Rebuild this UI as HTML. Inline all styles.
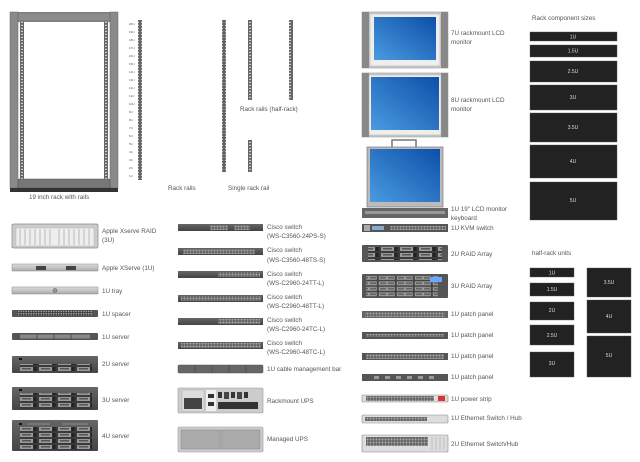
<!DOCTYPE html>
<html><head><meta charset="utf-8">
<style>
html,body{margin:0;padding:0;background:#fff;}
svg{display:block;}
text{font-family:"Liberation Sans",sans-serif;font-size:6.3px;fill:#555;}
.w{fill:#ddd;font-size:5px;text-anchor:middle;}
</style></head><body>
<svg width="640" height="462" viewBox="0 0 640 462" xmlns="http://www.w3.org/2000/svg">
<defs>
<pattern id="rail" width="4" height="3" patternUnits="userSpaceOnUse">
<rect width="4" height="3" fill="#666"/><rect x="1" y="0.8" width="2" height="1.2" fill="#ccc"/>
</pattern>
<pattern id="bay" width="19" height="6" patternUnits="userSpaceOnUse">
<rect width="19" height="6" fill="#3a3a3a"/><rect x="1" y="1" width="13" height="4" fill="#999"/><rect x="3" y="2" width="9" height="1.5" fill="#555"/><rect x="14.5" y="1" width="3" height="4" fill="#222"/>
</pattern>
<pattern id="port" width="3" height="3" patternUnits="userSpaceOnUse">
<rect width="3" height="3" fill="#555"/><rect x="0.5" y="0.5" width="2" height="2" fill="#aaa"/>
</pattern>
<pattern id="hole" width="2.5" height="2.5" patternUnits="userSpaceOnUse">
<rect width="2.5" height="2.5" fill="#444"/><circle cx="1.25" cy="1.25" r="0.7" fill="#bbb"/>
</pattern>
<pattern id="raid3" width="18" height="5.5" patternUnits="userSpaceOnUse">
<rect width="18" height="5.5" fill="#444"/><rect x="0.8" y="0.8" width="16" height="4" fill="#999"/><rect x="2" y="1.8" width="6" height="1.8" fill="#666"/><rect x="10" y="1.8" width="6" height="1.8" fill="#666"/>
</pattern>
<linearGradient id="scr" x1="0" y1="1" x2="1" y2="0"><stop offset="0" stop-color="#4a9be0"/><stop offset="1" stop-color="#0d4fa8"/></linearGradient>
<linearGradient id="mg" x1="0" y1="0" x2="0" y2="1"><stop offset="0" stop-color="#ddd"/><stop offset="1" stop-color="#aaa"/></linearGradient>
<linearGradient id="dg" x1="0" y1="0" x2="0" y2="1"><stop offset="0" stop-color="#666"/><stop offset="1" stop-color="#444"/></linearGradient>
</defs>

<!-- 19 inch rack -->
<rect x="10" y="12" width="108" height="180" fill="#888"/>
<rect x="18" y="22" width="92" height="157" fill="#fff"/>
<rect x="10" y="12" width="8" height="176" fill="#8a8a8a" stroke="#666" stroke-width="0.5"/>
<rect x="110" y="12" width="8" height="176" fill="#8a8a8a" stroke="#666" stroke-width="0.5"/>
<rect x="18" y="13" width="92" height="8" fill="#8c8c8c" stroke="#666" stroke-width="0.5"/>
<rect x="18" y="179" width="92" height="9" fill="#777" stroke="#555" stroke-width="0.5"/>
<rect x="10" y="188" width="108" height="4" fill="#333"/>
<rect x="20" y="22" width="4" height="157" fill="url(#rail)"/>
<rect x="104" y="22" width="4" height="157" fill="url(#rail)"/>
<text x="29" y="199">19 inch rack with rails</text>

<!-- numbered rail -->
<rect x="138" y="20" width="4" height="160" fill="url(#rail)"/>
<g font-size="3" >
<text x="129" y="25" style="font-size:3px">20U</text><text x="129" y="33" style="font-size:3px">19U</text><text x="129" y="41" style="font-size:3px">18U</text><text x="129" y="49" style="font-size:3px">17U</text><text x="129" y="57" style="font-size:3px">16U</text><text x="129" y="65" style="font-size:3px">15U</text><text x="129" y="73" style="font-size:3px">14U</text><text x="129" y="81" style="font-size:3px">13U</text><text x="129" y="89" style="font-size:3px">12U</text><text x="129" y="97" style="font-size:3px">11U</text><text x="129" y="105" style="font-size:3px">10U</text><text x="129" y="113" style="font-size:3px">9U</text><text x="129" y="121" style="font-size:3px">8U</text><text x="129" y="129" style="font-size:3px">7U</text><text x="129" y="137" style="font-size:3px">6U</text><text x="129" y="145" style="font-size:3px">5U</text><text x="129" y="153" style="font-size:3px">4U</text><text x="129" y="161" style="font-size:3px">3U</text><text x="129" y="169" style="font-size:3px">2U</text><text x="129" y="177" style="font-size:3px">1U</text>
</g>
<text x="168" y="190">Rack rails</text>
<rect x="222" y="20" width="4" height="152" fill="url(#rail)"/>
<text x="228" y="190">Single rack rail</text>
<rect x="248" y="20" width="4" height="80" fill="url(#rail)"/>
<rect x="289" y="20" width="4" height="80" fill="url(#rail)"/>
<text x="240" y="111">Rack rails (half-rack)</text>
<rect x="248" y="140" width="4" height="32" fill="url(#rail)"/>

<!-- left column -->
<rect x="12" y="224" width="86" height="24" rx="1.5" fill="#ccc" stroke="#888" stroke-width="0.7"/>
<rect x="16" y="228" width="78" height="18" fill="#eee" stroke="#aaa" stroke-width="0.4"/>
<g stroke="#999" stroke-width="0.6"><path d="M20 229v16M25 229v16M30 229v16M35 229v16M40 229v16M45 229v16M50 229v16M59 229v16M64 229v16M69 229v16M74 229v16M79 229v16M84 229v16M89 229v16"/></g>
<text x="102" y="233">Apple Xserve RAID</text><text x="102" y="242">(3U)</text>

<rect x="12" y="264" width="86" height="7" fill="url(#mg)" stroke="#888" stroke-width="0.5"/>
<rect x="36" y="266" width="10" height="4" fill="#444"/><rect x="66" y="266" width="10" height="4" fill="#444"/>
<text x="102" y="270">Apple XServe (1U)</text>

<rect x="12" y="287" width="86" height="7" fill="url(#mg)" stroke="#888" stroke-width="0.5"/>
<circle cx="55" cy="290.5" r="2" fill="#999" stroke="#555" stroke-width="0.5"/>
<text x="102" y="293">1U tray</text>

<rect x="12" y="310" width="86" height="7" rx="1" fill="#555"/>
<rect x="18" y="311" width="74" height="5" fill="url(#hole)"/>
<text x="102" y="316">1U spacer</text>

<rect x="12" y="333" width="86" height="7" rx="1" fill="#555"/>
<rect x="20" y="334.5" width="70" height="4" fill="#888"/>
<g stroke="#444" stroke-width="0.8"><path d="M37 334v6M54 334v6M71 334v6"/></g>
<text x="102" y="339">1U server</text>

<rect x="12" y="356" width="86" height="17" rx="1" fill="url(#dg)"/>
<rect x="20" y="364" width="72" height="7" fill="url(#bay)"/>
<rect x="19" y="358" width="3" height="2" fill="#111"/>
<text x="102" y="366">2U server</text>

<rect x="12" y="387" width="86" height="23" rx="1" fill="url(#dg)"/>
<rect x="20" y="393" width="72" height="16" fill="url(#bay)"/>
<rect x="19" y="389" width="3" height="2" fill="#111"/>
<text x="102" y="402">3U server</text>

<rect x="12" y="420" width="86" height="31" rx="1" fill="url(#dg)"/>
<rect x="20" y="427" width="72" height="23" fill="url(#bay)"/>
<rect x="19" y="423" width="3" height="2" fill="#111"/><rect x="28" y="423" width="22" height="2" fill="#777"/><rect x="62" y="423" width="26" height="2" fill="#777"/>
<text x="102" y="438">4U server</text>

<!-- middle column -->
<g>
<rect x="178" y="224" width="85" height="7" fill="url(#dg)"/><rect x="210" y="225" width="18" height="5" fill="url(#port)"/><rect x="234" y="225" width="16" height="5" fill="url(#port)"/>
<text x="267" y="229">Cisco switch</text><text x="267" y="238">(WS-C3560-24PS-S)</text>
<rect x="178" y="248" width="85" height="7" fill="url(#dg)"/><rect x="183" y="249" width="72" height="5" fill="url(#port)"/>
<text x="267" y="252">Cisco switch</text><text x="267" y="262">(WS-C3560-48TS-S)</text>
<rect x="178" y="271" width="85" height="7" fill="url(#dg)"/><rect x="218" y="272" width="42" height="5" fill="url(#port)"/>
<text x="267" y="276">Cisco switch</text><text x="267" y="285">(WS-C2960-24TT-L)</text>
<rect x="178" y="295" width="85" height="7" fill="url(#dg)"/><rect x="181" y="296" width="80" height="5" fill="url(#port)"/>
<text x="267" y="299">Cisco switch</text><text x="267" y="308">(WS-C2960-48TT-L)</text>
<rect x="178" y="318" width="85" height="7" fill="url(#dg)"/><rect x="218" y="319" width="42" height="5" fill="url(#port)"/>
<text x="267" y="322">Cisco switch</text><text x="267" y="331">(WS-C2960-24TC-L)</text>
<rect x="178" y="342" width="85" height="7" fill="url(#dg)"/><rect x="181" y="343" width="80" height="5" fill="url(#port)"/>
<text x="267" y="345">Cisco switch</text><text x="267" y="354">(WS-C2960-48TC-L)</text>
</g>
<rect x="178" y="365" width="85" height="8" rx="1" fill="#666" stroke="#555" stroke-width="0.5"/>
<g stroke="#444" stroke-width="0.6"><path d="M195 365v8M212 365v8M229 365v8M246 365v8"/></g>
<text x="267" y="371">1U cable management bar</text>

<rect x="178" y="388" width="85" height="25" rx="1" fill="#ccc" stroke="#999" stroke-width="0.6"/>
<rect x="182" y="390" width="22" height="21" fill="#ddd" stroke="#aaa" stroke-width="0.4"/>
<rect x="184" y="398" width="18" height="11" fill="#444"/>
<rect x="206" y="390" width="10" height="21" fill="#eee"/><rect x="208" y="394" width="6" height="4" fill="#333"/><rect x="208" y="402" width="6" height="4" fill="#333"/>
<rect x="218" y="392" width="4" height="6" fill="#333"/><rect x="224" y="392" width="5" height="7" fill="#444"/><rect x="231" y="392" width="4" height="6" fill="#333"/><rect x="237" y="392" width="5" height="7" fill="#444"/><rect x="244" y="392" width="4" height="6" fill="#333"/>
<rect x="218" y="402" width="40" height="7" fill="#333"/>
<text x="267" y="403">Rackmount UPS</text>

<rect x="178" y="427" width="85" height="25" rx="1.5" fill="#ccc" stroke="#999" stroke-width="0.6"/>
<rect x="181" y="430" width="39" height="19" fill="#aaa" stroke="#888" stroke-width="0.5"/>
<rect x="221" y="430" width="39" height="19" fill="#aaa" stroke="#888" stroke-width="0.5"/>
<text x="267" y="441">Managed UPS</text>

<!-- monitors -->
<rect x="362" y="12" width="86" height="56" fill="#ccc" stroke="#999" stroke-width="0.6"/>
<rect x="362" y="12" width="7" height="56" fill="#888"/><rect x="441" y="12" width="7" height="56" fill="#888"/>
<rect x="370" y="14" width="70" height="52" fill="#eee" stroke="#aaa" stroke-width="0.5"/>
<rect x="374" y="17" width="62" height="43" fill="url(#scr)"/>
<text x="451" y="35">7U rackmount LCD</text><text x="451" y="44">monitor</text>

<rect x="362" y="73" width="86" height="64" fill="#ccc" stroke="#999" stroke-width="0.6"/>
<rect x="362" y="73" width="7" height="64" fill="#888"/><rect x="441" y="73" width="7" height="64" fill="#888"/>
<rect x="369" y="75" width="72" height="60" fill="#eee" stroke="#aaa" stroke-width="0.5"/>
<rect x="371" y="77" width="68" height="53" fill="url(#scr)"/>
<text x="451" y="102">8U rackmount LCD</text><text x="451" y="111">monitor</text>

<rect x="392" y="140" width="24" height="8" fill="none" stroke="#777" stroke-width="1.5"/>
<rect x="367" y="147" width="76" height="60" fill="#bbb" stroke="#777" stroke-width="0.7"/>
<rect x="370" y="149" width="70" height="53" fill="url(#scr)"/>
<rect x="362" y="208" width="86" height="10" fill="#666"/><rect x="365" y="211" width="80" height="3" fill="#999"/>
<text x="451" y="211">1U 19" LCD monitor</text><text x="451" y="220">keyboard</text>

<!-- right device column -->
<rect x="362" y="224" width="86" height="8" fill="#555"/><rect x="364" y="225" width="6" height="6" fill="#aaa"/><rect x="372" y="226" width="12" height="4" fill="#8ac"/><rect x="390" y="226" width="56" height="4" fill="url(#port)"/>
<text x="451" y="230">1U KVM switch</text>
<rect x="362" y="245" width="86" height="17" rx="1" fill="#555"/><rect x="368" y="247" width="74" height="13" fill="url(#bay)"/>
<text x="451" y="256">2U RAID Array</text>
<rect x="362" y="274" width="86" height="24" rx="1" fill="#555"/><rect x="366" y="276" width="72" height="21" fill="url(#raid3)"/><rect x="430" y="277" width="12" height="5" fill="#6af"/>
<text x="451" y="288">3U RAID Array</text>
<rect x="362" y="311" width="86" height="7" fill="#666"/><rect x="365" y="312" width="80" height="5" fill="url(#port)"/>
<text x="451" y="316">1U patch panel</text>
<rect x="362" y="332" width="86" height="7" fill="#555"/><rect x="366" y="334" width="78" height="3" fill="url(#port)"/>
<text x="451" y="337">1U patch panel</text>
<rect x="362" y="353" width="86" height="7" fill="#555"/><rect x="366" y="354" width="78" height="5" fill="url(#port)"/>
<text x="451" y="358">1U patch panel</text>
<rect x="362" y="374" width="86" height="7" fill="#555"/>
<g fill="#999"><rect x="374" y="376" width="5" height="3"/><rect x="385" y="376" width="5" height="3"/><rect x="396" y="376" width="5" height="3"/><rect x="407" y="376" width="5" height="3"/><rect x="418" y="376" width="5" height="3"/><rect x="429" y="376" width="5" height="3"/></g>
<text x="451" y="379">1U patch panel</text>
<rect x="362" y="395" width="86" height="7" rx="1" fill="#ddd" stroke="#888" stroke-width="0.6"/><rect x="366" y="396" width="68" height="5" fill="url(#port)"/><rect x="438" y="396" width="7" height="5" fill="#d33"/>
<text x="451" y="401">1U power strip</text>
<rect x="362" y="415" width="86" height="8" rx="1" fill="#ddd" stroke="#888" stroke-width="0.6"/><rect x="365" y="417" width="62" height="4" fill="url(#port)"/>
<text x="451" y="420">1U Ethernet Switch / Hub</text>
<rect x="362" y="435" width="86" height="17" rx="1" fill="#ddd" stroke="#888" stroke-width="0.6"/><rect x="366" y="437" width="62" height="9" fill="url(#port)"/><g stroke="#aaa" stroke-width="0.6"><path d="M432 437v13M436 437v13M440 437v13M444 437v13"/></g>
<text x="451" y="446">2U Ethernet Switch/Hub</text>

<!-- rack component sizes -->
<text x="532" y="20">Rack component sizes</text>
<g fill="#222" stroke="#555" stroke-width="0.4">
<rect x="530" y="32" width="87" height="9"/><rect x="530" y="45" width="87" height="12"/><rect x="530" y="61" width="87" height="21"/><rect x="530" y="85" width="87" height="25"/><rect x="530" y="113" width="87" height="29"/><rect x="530" y="145" width="87" height="33"/><rect x="530" y="182" width="87" height="38"/>
</g>
<text class="w" x="573" y="38.5">1U</text><text class="w" x="573" y="52.5">1.5U</text><text class="w" x="573" y="73">2.5U</text><text class="w" x="573" y="99">3U</text><text class="w" x="573" y="129">3.5U</text><text class="w" x="573" y="163">4U</text><text class="w" x="573" y="202">5U</text>

<text x="532" y="255">half-rack units</text>
<g fill="#222" stroke="#555" stroke-width="0.4">
<rect x="530" y="268" width="44" height="9"/><rect x="530" y="283" width="44" height="13"/><rect x="530" y="302" width="44" height="18"/><rect x="530" y="325" width="44" height="20"/><rect x="530" y="352" width="44" height="25"/>
<rect x="587" y="268" width="44" height="29"/><rect x="587" y="300" width="44" height="33"/><rect x="587" y="336" width="44" height="41"/>
</g>
<text class="w" x="552" y="274.5">1U</text><text class="w" x="552" y="291">1.5U</text><text class="w" x="552" y="312">2U</text><text class="w" x="552" y="337">2.5U</text><text class="w" x="552" y="365">3U</text>
<text class="w" x="609" y="284">3.5U</text><text class="w" x="609" y="318">4U</text><text class="w" x="609" y="357">5U</text>
</svg>
</body></html>
